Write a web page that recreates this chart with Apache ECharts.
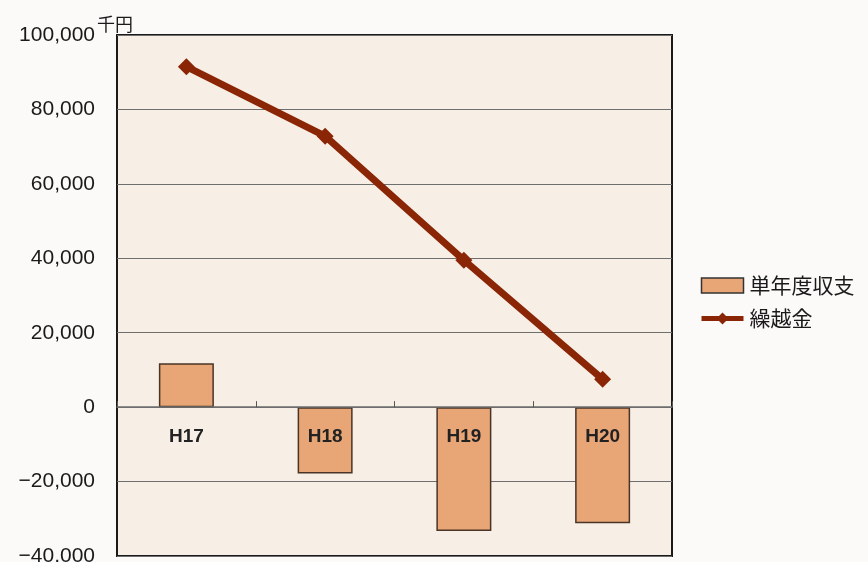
<!DOCTYPE html>
<html>
<head>
<meta charset="utf-8">
<script src="https://cdn.jsdelivr.net/npm/echarts@6/dist/echarts.min.js"></script>
<style>
  html, body { margin: 0; padding: 0; background: #fbfaf8; }
  #chart { width: 868px; height: 562px; }
</style>
</head>
<body>
<div id="chart"></div>
<script>
// Fiscal years
const years = ['H17', 'H18', 'H19', 'H20'];
// Single-year balance (thousand yen)
const annualBalance = [11800, -17800, -33300, -31200];
// Carried-over funds (thousand yen)
const carryOver = [91500, 72800, 39500, 7500];
// Value axis range
const yMin = -40000, yMax = 100000, yStep = 20000;

const numFont = '"Liberation Sans", Arial, sans-serif';
const jpFont = '"Noto Sans CJK JP", "Noto Sans", sans-serif';

function fmt(v) {
  const s = Math.abs(v).toLocaleString('en-US');
  return v < 0 ? '\u2212' + s : s;
}

const chart = echarts.init(document.getElementById('chart'));
chart.setOption({
  animation: false,
  backgroundColor: '#fbfaf8',
  grid: {
    left: 117, right: 196, top: 35, bottom: 6,
    outerBoundsMode: 'none',
    containLabel: false,
    show: true,
    backgroundColor: '#f7efe6',
    borderColor: '#1a1a1a',
    borderWidth: 2
  },
  legend: {
    orient: 'vertical',
    left: 694, top: 270,
    itemWidth: 42, itemHeight: 15, itemGap: 12,
    textStyle: { fontFamily: jpFont, fontSize: 21, color: '#1a1a1a', padding: [0, 0, 0, 1] },
    data: [
      { name: '単年度収支', icon: 'rect', itemStyle: { color: '#e8a677', borderColor: '#333', borderWidth: 1.5 } },
      { name: '繰越金', lineStyle: { width: 5, color: '#8a2606' } }
    ]
  },
  xAxis: {
    type: 'category',
    data: years,
    z: 5,
    axisLine: { onZero: true, lineStyle: { color: '#6e6e6e', width: 1.5 } },
    axisTick: { show: true, inside: true, length: 6, lineStyle: { color: '#555' } },
    axisLabel: { show: false }
  },
  yAxis: {
    type: 'value',
    min: yMin, max: yMax, interval: yStep,
    axisLine: { show: false },
    axisTick: { show: false },
    axisLabel: { margin: 22, fontFamily: numFont, fontSize: 21, color: '#1a1a1a', formatter: fmt },
    splitLine: { lineStyle: { color: '#6e6e6e', width: 1.2 } }
  },
  series: [
    {
      name: '単年度収支',
      type: 'bar',
      data: annualBalance,
      barWidth: 55,
      z: 2,
      itemStyle: { color: '#e8a677', borderColor: '#4a3426', borderWidth: 1.5 }
    },
    {
      name: '繰越金',
      type: 'line',
      data: carryOver,
      z: 6,
      symbol: 'diamond',
      symbolSize: 17,
      lineStyle: { color: '#8a2606', width: 7 },
      itemStyle: { color: '#8a2606' }
    }
  ]
});

// Category names sit just below the zero line, over the bars
const graphics = [{
  type: 'text', left: 97, top: 15,
  style: { text: '千円', font: '18px ' + jpFont, fill: '#1a1a1a' }
}];
years.forEach(function (yr) {
  const p = chart.convertToPixel({ xAxisIndex: 0, yAxisIndex: 0 }, [yr, 0]);
  graphics.push({
    type: 'text', x: p[0], y: p[1] + 30, z: 20,
    style: {
      text: yr, font: 'bold 19px ' + numFont, fill: '#222',
      align: 'center', verticalAlign: 'middle'
    }
  });
});
chart.setOption({ graphic: graphics });
</script>
</body>
</html>
